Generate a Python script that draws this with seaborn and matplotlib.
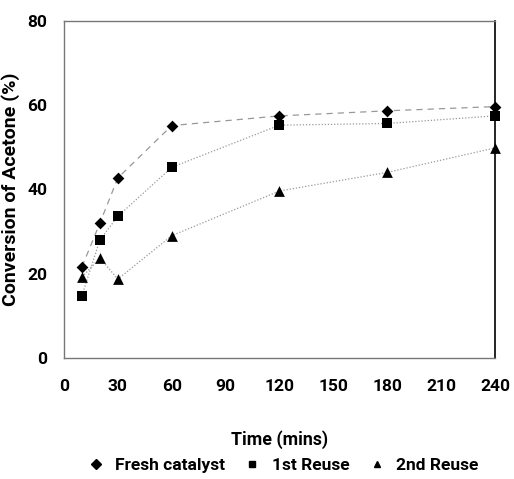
import matplotlib
matplotlib.use("Agg")
import matplotlib.pyplot as plt
import seaborn as sns
import pandas as pd
from matplotlib.lines import Line2D

time = [10, 20, 30, 60, 120, 180, 240]
fresh = [21.6, 32.0, 42.7, 55.1, 57.4, 58.6, 59.6]
reuse1 = [14.8, 28.0, 33.6, 45.2, 55.2, 55.6, 57.4]
reuse2 = [19.2, 23.7, 18.7, 29.0, 39.6, 44.0, 49.8]
series_names = ["Fresh catalyst", "1st Reuse", "2nd Reuse"]
xticks = [0, 30, 60, 90, 120, 150, 180, 210, 240]
yticks = [0, 20, 40, 60, 80]

sns.set_theme(style="white")
plt.rcParams['font.family'] = ['Roboto', 'DejaVu Sans']
plt.rcParams['font.weight'] = 'bold'
plt.rcParams['text.color'] = 'black'
plt.rcParams['axes.labelcolor'] = 'black'
plt.rcParams['xtick.color'] = 'black'
plt.rcParams['ytick.color'] = 'black'

df = pd.DataFrame({
    "time": time * 3,
    "value": fresh + reuse1 + reuse2,
    "series": [series_names[0]] * 7 + [series_names[1]] * 7 + [series_names[2]] * 7,
})

fig = plt.figure(figsize=(5.14, 4.79), dpi=100)
ax = fig.add_axes([0.1245, 0.2526, 0.8385, 0.7045])

markers = {series_names[0]: "D", series_names[1]: "s", series_names[2]: "^"}
msize = {series_names[0]: 36, series_names[1]: 45, series_names[2]: 60}
dashes = {series_names[0]: (5, 4), series_names[1]: (1, 1.5), series_names[2]: (1, 1.5)}

for name in series_names:
    sub = df[df.series == name]
    sns.lineplot(data=sub, x="time", y="value", ax=ax, color="#999999",
                 linewidth=0.9, legend=False)
    ax.lines[-1].set_dashes(dashes[name])
    sns.scatterplot(data=sub, x="time", y="value", ax=ax, marker=markers[name],
                    color="black", s=msize[name], edgecolor="black", linewidth=0,
                    legend=False, zorder=5, clip_on=False)

ax.set_xlim(0, 240)
ax.set_ylim(0, 80)
ax.set_xticks(xticks)
ax.set_yticks(yticks)
ax.tick_params(axis="both", direction="out", length=5, width=1, color="#777777",
               labelcolor="black", labelsize=12.5)
ax.tick_params(axis="x", pad=10)
ax.tick_params(axis="y", pad=7)
for lab in ax.get_xticklabels() + ax.get_yticklabels():
    lab.set_fontweight("bold")
for s in ["left", "bottom", "top"]:
    ax.spines[s].set_color("#777777")
    ax.spines[s].set_linewidth(1)
ax.spines["right"].set_color("black")
ax.spines["right"].set_linewidth(1.2)

ax.set_xlabel("Time (mins)", fontsize=12.8, fontweight="bold", labelpad=26, color="black")
ax.set_ylabel("Conversion of Acetone (%)", fontsize=14, fontweight="bold", labelpad=5,
              color="black")

handles = [
    Line2D([], [], linestyle="none", marker="D", color="black", markersize=5),
    Line2D([], [], linestyle="none", marker="s", color="black", markersize=5),
    Line2D([], [], linestyle="none", marker="^", color="black", markersize=5),
]
fig.legend(handles, series_names, loc="center", bbox_to_anchor=(0.55, 0.028),
           ncol=3, frameon=False, prop={"weight": "bold", "size": 12.5},
           handletextpad=0.6, columnspacing=1.1, handlelength=1.0)

fig.savefig("out.png", dpi=100)
